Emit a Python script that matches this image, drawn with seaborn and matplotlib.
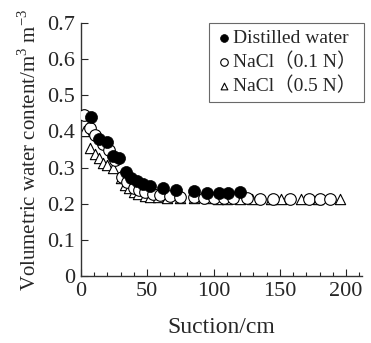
import numpy as np
import pandas as pd
import seaborn as sns
from matplotlib import pyplot as plt
from matplotlib.ticker import MultipleLocator, FuncFormatter

# Distilled water (filled circles).
dw_x = [8, 14, 20, 24, 29, 34, 38, 42, 47, 52, 62, 72, 85, 95, 104, 111, 120]
dw_y = [0.44, 0.38, 0.372, 0.332, 0.328, 0.289, 0.272, 0.262, 0.255, 0.249,
        0.243, 0.239, 0.234, 0.230, 0.231, 0.229, 0.232]

# NaCl 0.1 N (open circles).
n1_x = [2, 7, 11, 17, 21, 26, 31, 35, 40, 44, 48, 54, 60, 67, 75, 85, 93,
        100, 108, 115, 125, 135, 145, 158, 172, 180, 188]
n1_y = [0.445, 0.41, 0.39, 0.365, 0.35, 0.32, 0.275, 0.26, 0.245, 0.238, 0.232,
        0.228, 0.225, 0.222, 0.220, 0.218, 0.217, 0.216, 0.215, 0.215, 0.215,
        0.214, 0.214, 0.213, 0.213, 0.213, 0.213]

# NaCl 0.5 N (open triangles).
n5_x = [2, 7, 11, 14, 17, 20, 24, 30, 33, 36, 40, 43, 48, 52, 58, 65, 75, 85,
        95, 103, 110, 120, 129, 143, 151, 166, 179, 195]
n5_y = [0.40, 0.354, 0.338, 0.326, 0.314, 0.307, 0.298, 0.27, 0.252, 0.243,
        0.233, 0.227, 0.222, 0.220, 0.219, 0.217, 0.216, 0.215, 0.215, 0.214,
        0.214, 0.214, 0.213, 0.213, 0.213, 0.213, 0.213, 0.212]

labels = ["Distilled water", "NaCl（0.1 N）", "NaCl（0.5 N）"]

sns.set_theme(style="ticks")
plt.rcParams["font.family"] = ["Liberation Serif", "Noto Sans CJK SC"]
plt.rcParams["mathtext.fontset"] = "custom"
plt.rcParams["mathtext.rm"] = "Liberation Serif"

fig = plt.figure(figsize=(3.71, 3.43), dpi=100)
ax = fig.add_axes([0.218, 0.195, 0.758, 0.738])

sns.scatterplot(x=n5_x, y=n5_y, marker="^", s=55, facecolor="white",
                edgecolor="black", linewidth=0.8, label=labels[2], ax=ax, zorder=2)
sns.scatterplot(x=n1_x, y=n1_y, marker="o", s=70, facecolor="white",
                edgecolor="black", linewidth=0.8, label=labels[1], ax=ax, zorder=3)
sns.scatterplot(x=dw_x, y=dw_y, marker="o", s=75, color="black",
                edgecolor="black", linewidth=0.5, label=labels[0], ax=ax, zorder=4)

ax.set_xlim(0, 212)
ax.set_ylim(0, 0.7)
ax.xaxis.set_major_locator(MultipleLocator(50))
ax.xaxis.set_minor_locator(MultipleLocator(10))
ax.yaxis.set_major_locator(MultipleLocator(0.1))
ax.yaxis.set_major_formatter(FuncFormatter(lambda v, p: "0" if abs(v) < 1e-9 else f"{v:.1f}"))
ax.tick_params(axis="both", direction="in", labelsize=16, length=5, width=0.8, pad=4)
ax.tick_params(axis="x", which="minor", direction="in", length=3, width=0.8)
sns.despine(ax=ax)
for side in ("left", "bottom"):
    ax.spines[side].set_linewidth(1.0)
    ax.spines[side].set_color("#333333")

ax.set_xlabel("Suction/cm", fontsize=17, labelpad=12)
ax.set_ylabel(r"Volumetric water content/m$^3$ m$^{-3}$", fontsize=15, labelpad=5)

handles, lbls = ax.get_legend_handles_labels()
order = [lbls.index(l) for l in labels]
leg = ax.legend([handles[i] for i in order], [lbls[i] for i in order],
                loc="upper right", bbox_to_anchor=(1.005, 1.0), fontsize=14,
                frameon=True, fancybox=False, edgecolor="#444444",
                handletextpad=0.0, borderpad=0.35, labelspacing=0.28,
                handlelength=0.9, markerscale=0.65, borderaxespad=0.0)
leg.get_frame().set_linewidth(0.8)

fig.savefig("out.png", dpi=100)
